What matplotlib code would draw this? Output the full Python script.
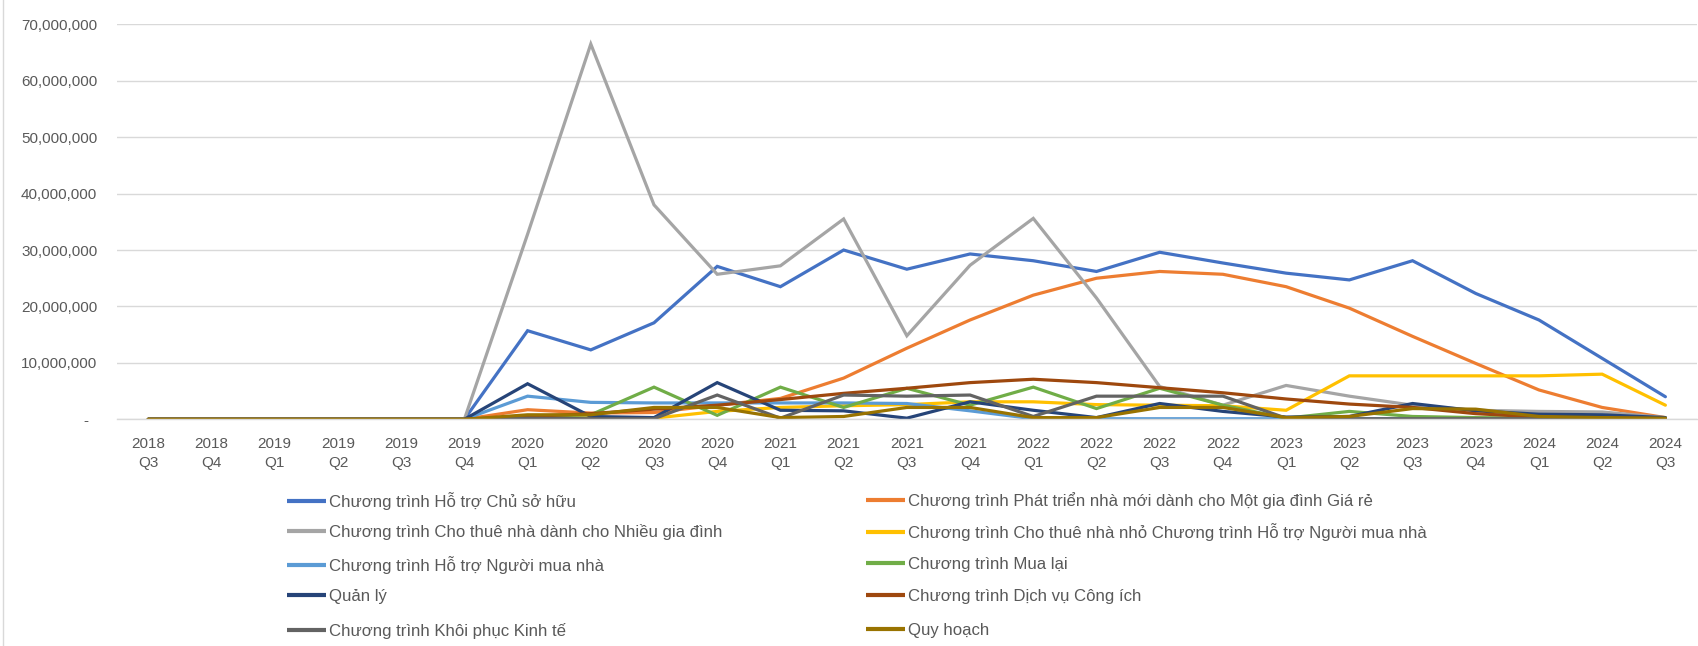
import matplotlib
matplotlib.use("Agg")
import matplotlib.pyplot as plt
from matplotlib.lines import Line2D
from matplotlib.ticker import FuncFormatter

plt.rcParams['font.family'] = ['Liberation Sans', 'DejaVu Sans']

quarters = ["2018\nQ3", "2018\nQ4", "2019\nQ1", "2019\nQ2", "2019\nQ3", "2019\nQ4",
            "2020\nQ1", "2020\nQ2", "2020\nQ3", "2020\nQ4",
            "2021\nQ1", "2021\nQ2", "2021\nQ3", "2021\nQ4",
            "2022\nQ1", "2022\nQ2", "2022\nQ3", "2022\nQ4",
            "2023\nQ1", "2023\nQ2", "2023\nQ3", "2023\nQ4",
            "2024\nQ1", "2024\nQ2", "2024\nQ3"]

# values in millions
ho_tro_chu_so_huu = [0, 0, 0, 0, 0, 0, 15.7, 12.3, 17.1, 27.1, 23.5, 30.0, 26.6, 29.3,
                     28.1, 26.2, 29.6, 27.7, 25.9, 24.7, 28.1, 22.3, 17.6, 10.8, 4.0]
phat_trien_nha_moi = [0, 0, 0, 0, 0, 0, 1.7, 1.1, 1.2, 2.5, 3.7, 7.3, 12.6, 17.6,
                      22.0, 25.0, 26.2, 25.7, 23.5, 19.7, 14.7, 9.9, 5.2, 2.1, 0.3]
cho_thue_nhieu_gd = [0, 0, 0, 0, 0, 0, 32.8, 66.5, 38.0, 25.7, 27.2, 35.5, 14.8, 27.3,
                     35.6, 21.5, 5.8, 2.5, 6.0, 4.1, 2.5, 1.6, 1.4, 1.3, 0.3]
cho_thue_nha_nho = [0, 0, 0, 0, 0, 0, 0.2, 0.2, 0.2, 1.4, 2.1, 2.4, 2.6, 3.1,
                    3.1, 2.6, 2.5, 2.4, 1.6, 7.7, 7.7, 7.7, 7.7, 8.0, 2.5]
ho_tro_nguoi_mua = [0, 0, 0, 0, 0, 0, 4.1, 3.0, 2.9, 2.9, 2.9, 2.9, 2.8, 1.5,
                    0.1, 0.1, 0.1, 0.1, 0.1, 0.1, 0.1, 0.1, 0.1, 0.1, 0.1]
mua_lai = [0, 0, 0, 0, 0, 0, 0.5, 0.8, 5.7, 0.7, 5.7, 2.1, 5.5, 2.5,
           5.7, 1.9, 5.5, 2.5, 0.2, 1.4, 0.5, 0.3, 0.2, 0.2, 0.2]
quan_ly = [0, 0, 0, 0, 0, 0, 6.3, 0.5, 0.3, 6.5, 1.6, 1.5, 0.2, 3.1,
           1.6, 0.3, 2.8, 1.4, 0.4, 0.5, 2.8, 1.5, 0.9, 0.8, 0.3]
dich_vu_cong_ich = [0, 0, 0, 0, 0, 0, 0.5, 1.0, 1.8, 2.5, 3.5, 4.6, 5.5, 6.5,
                    7.1, 6.5, 5.6, 4.7, 3.6, 2.7, 2.1, 1.0, 0.4, 0.2, 0.1]
khoi_phuc_kinh_te = [0, 0, 0, 0, 0, 0, 0.2, 0.1, 0.1, 4.3, 0.2, 4.3, 4.1, 4.3,
                     0.5, 4.1, 4.1, 4.1, 0.2, 0.1, 0.1, 0.1, 0.1, 0.1, 0.1]
quy_hoach = [0, 0, 0, 0, 0, 0, 0.8, 0.8, 2.1, 2.1, 0.3, 0.5, 2.1, 2.1,
             0.3, 0.3, 2.1, 2.1, 0.3, 0.5, 1.9, 1.8, 0.5, 0.3, 0.2]

series_names = [
    "Chương trình Hỗ trợ Chủ sở hữu",
    "Chương trình Phát triển nhà mới dành cho Một gia đình Giá rẻ",
    "Chương trình Cho thuê nhà dành cho Nhiều gia đình",
    "Chương trình Cho thuê nhà nhỏ Chương trình Hỗ trợ Người mua nhà",
    "Chương trình Hỗ trợ Người mua nhà",
    "Chương trình Mua lại",
    "Quản lý",
    "Chương trình Dịch vụ Công ích",
    "Chương trình Khôi phục Kinh tế",
    "Quy hoạch",
]
series_values = [ho_tro_chu_so_huu, phat_trien_nha_moi, cho_thue_nhieu_gd, cho_thue_nha_nho,
                 ho_tro_nguoi_mua, mua_lai, quan_ly, dich_vu_cong_ich, khoi_phuc_kinh_te, quy_hoach]
colors = ["#4472C4", "#ED7D31", "#A5A5A5", "#FFC000", "#5B9BD5",
          "#70AD47", "#264478", "#9E480E", "#636363", "#997300"]

W, H = 1698, 646
fig = plt.figure(figsize=(W / 100, H / 100), dpi=100)
ax = fig.add_axes([116.7 / W, (H - 419.3) / H, (1697 - 116.7) / W, (419.3 - 24.3) / H])

x = list(range(len(quarters)))
handles = []
for name, vals, c in zip(series_names, series_values, colors):
    h, = ax.plot(x, [v * 1e6 for v in vals], color=c, lw=2.3, label=name,
                 solid_joinstyle='miter', solid_capstyle='round')
    handles.append(h)

ax.set_xlim(-0.5, len(quarters) - 0.5)
ax.set_ylim(0, 70e6)
ax.set_yticks([i * 10e6 for i in range(8)])
ax.yaxis.set_major_formatter(FuncFormatter(lambda v, p: "-  " if v == 0 else f"{int(round(v)):,}"))
ax.set_xticks(x)
ax.set_xticklabels(quarters, linespacing=1.45)
ax.tick_params(axis='both', length=0, colors='#595959', labelsize=11)
ax.tick_params(axis='y', pad=14)
ax.tick_params(axis='x', pad=12.5)
ax.grid(axis='y', color='#D9D9D9', lw=1)
ax.set_axisbelow(True)
for s in ['left', 'right', 'top']:
    ax.spines[s].set_visible(False)
ax.spines['bottom'].set_color('#D9D9D9')
ax.spines['bottom'].set_linewidth(1)

# frame line at left edge
fig.add_artist(Line2D([3 / W, 3 / W], [0, 1], color='#D9D9D9', lw=1, transform=fig.transFigure))

# legend: two columns, five rows, each entry placed on a fixed grid
col_x = [287.3, 866.0]
row_y = [500.5, 532.0, 564.5, 596.5, 630.7]
leg_kw = dict(frameon=False, fontsize=12.1, handlelength=2.3, handletextpad=0.2,
              borderpad=0, borderaxespad=0, labelcolor='#595959', loc='center left')
for i, (h, name) in enumerate(zip(handles, series_names)):
    col, row = i % 2, i // 2
    lg = fig.legend([h], [name], bbox_to_anchor=(col_x[col] / W, 1 - row_y[row] / H), **leg_kw)
    for l in lg.get_lines():
        l.set_linewidth(3)
        l.set_solid_capstyle('butt')

fig.savefig("out.png", dpi=100)
